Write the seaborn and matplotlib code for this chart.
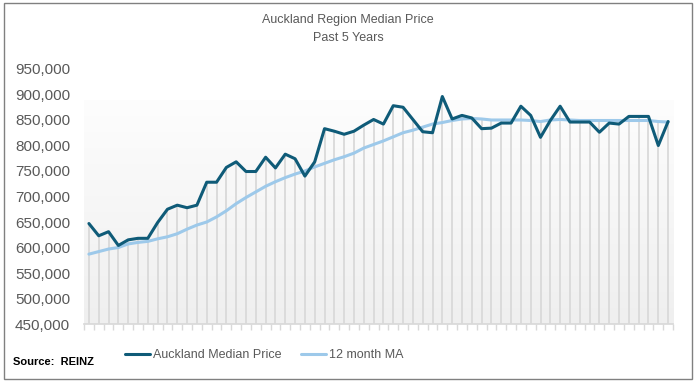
import numpy as np
import pandas as pd
import matplotlib.pyplot as plt
import seaborn as sns
from matplotlib.colors import LinearSegmentedColormap
from matplotlib.patches import Rectangle

sns.set_theme(style='white')
plt.rcParams['font.family'] = ['Liberation Sans', 'DejaVu Sans']

# monthly data, past 5 years (60 months)
median_price = [647000, 623000, 631000, 604000, 615000, 618000, 618000, 649000, 675000, 683000,
                678000, 683000, 728000, 728000, 757000, 768000, 749000, 749000, 777000, 756000,
                783000, 774000, 740000, 768000, 833000, 828000, 822000, 828000, 840000, 851000,
                842000, 878000, 875000, 851000, 827000, 825000, 896000, 852000, 859000, 854000,
                833000, 834000, 844000, 844000, 877000, 859000, 816000, 849000, 877000, 846000,
                846000, 846000, 826000, 844000, 842000, 857000, 857000, 857000, 800000, 847000]
moving_avg = [587000, 592000, 597000, 600000, 607000, 610000, 612000, 617000, 621000, 627000,
              636000, 644000, 650000, 660000, 672000, 686000, 698000, 709000, 720000, 729000,
              737000, 744000, 750000, 758000, 765000, 772000, 778000, 785000, 795000, 802000,
              809000, 817000, 825000, 830000, 836000, 842000, 845000, 849000, 852000, 853000,
              852000, 850000, 850000, 850000, 850000, 849000, 847000, 850000, 851000, 850000,
              849000, 849000, 849000, 849000, 849000, 849000, 849000, 849000, 847000, 846000]
y_ticks = list(range(450000, 950001, 50000))

df = pd.DataFrame({'Month': np.arange(len(median_price)),
                   'Auckland Median Price': median_price,
                   '12 month MA': moving_avg})

fig = plt.figure(figsize=(6.96, 3.82), dpi=100)
ax = fig.add_axes([0.1207, 0.1518, 0.8463, 0.6676])

# soft grey gradient behind the lines
grad = np.linspace(0, 1, 256).reshape(-1, 1)
cmap = LinearSegmentedColormap.from_list('g', ['#efefef', '#fdfdfd'])
ax.imshow(grad, extent=[-0.5, len(df) - 0.5, 450000, 888000], aspect='auto',
          cmap=cmap, origin='lower', zorder=0)

# drop lines
ax.vlines(df['Month'], 450000, df[['Auckland Median Price', '12 month MA']].max(axis=1),
          color='#d9d9d9', lw=1.3, zorder=1)

sns.lineplot(data=df, x='Month', y='12 month MA', color='#9dc9ea', lw=2.2,
             ax=ax, label='12 month MA', zorder=2)
sns.lineplot(data=df, x='Month', y='Auckland Median Price', color='#0f5b78', lw=2.2,
             ax=ax, label='Auckland Median Price', zorder=3)

ax.set_xlim(-0.5, len(df) - 0.5)
ax.set_ylim(450000, 950000)
ax.set_yticks(y_ticks)
ax.set_yticklabels([f'{v:,}' for v in y_ticks])
ax.set_xticks(np.arange(-0.5, len(df), 1))
ax.set_xticklabels([])
ax.set_xlabel('')
ax.set_ylabel('')
ax.tick_params(axis='y', length=0, labelsize=11, labelcolor='#595959', pad=10)
ax.tick_params(axis='x', length=4, color='#d9d9d9', width=1, direction='out', bottom=True)
for s in ['left', 'top', 'right']:
    ax.spines[s].set_visible(False)
ax.spines['bottom'].set_color('#d9d9d9')
ax.set_facecolor('white')

# legend in the order of the original
h, l = ax.get_legend_handles_labels()
ax.legend_.remove()
fig.legend([h[1], h[0]], [l[1], l[0]], loc='center', bbox_to_anchor=(0.38, 1 - 355 / 382),
           ncol=2, frameon=False, fontsize=9, handlelength=2.0, handletextpad=0.2,
           columnspacing=1.6, labelcolor='#595959')

fig.text(0.5, 1 - 20 / 382, 'Auckland Region Median Price', ha='center', va='center',
         fontsize=9, color='#595959')
fig.text(0.5, 1 - 38 / 382, 'Past 5 Years', ha='center', va='center',
         fontsize=9, color='#595959')
fig.text(13 / 696, 1 - 362 / 382, 'Source:  REINZ', ha='left', va='center',
         fontsize=8, fontweight='bold', color='black')

fig.patches.append(Rectangle((4 / 696, 3 / 382), 688 / 696, 376 / 382, transform=fig.transFigure,
                             fill=False, ec='#808080', lw=1))

plt.savefig('out.png', dpi=100)
